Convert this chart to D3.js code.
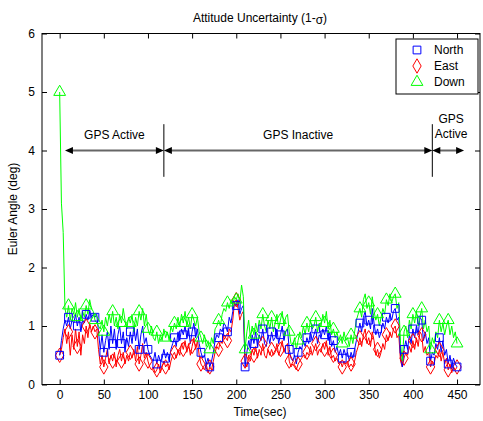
<!DOCTYPE html>
<html><head><meta charset="utf-8">
<script src="https://cdn.jsdelivr.net/npm/d3@7"></script>
<style>body{margin:0;background:#fff}svg{display:block}text{font-family:"Liberation Sans",Arial,sans-serif}</style>
</head><body><svg id="c" width="483" height="421"></svg>
<script>
const time = d3.range(0, 451, 2);
const xTicks = [0,50,100,150,200,250,300,350,400,450];
const yTicks = [0,1,2,3,4,5,6];
const seriesNames = ["North","East","Down"];
const north = [
0.5,0.75,0.95,1.1,1.0,1.15,0.95,1.1,1.05,1.2,
1.0,1.15,0.9,1.1,1.05,1.2,1.1,1.25,1.15,1.2,
1.15,1.2,0.9,0.6,0.85,0.55,0.75,0.9,0.6,1.0,
0.7,0.95,0.6,0.85,1.0,0.7,0.9,0.55,0.8,0.65,
0.9,0.7,1.0,0.75,0.95,0.6,0.85,1.0,0.7,0.8,
0.6,0.5,0.45,0.4,0.55,0.35,0.5,0.4,0.45,0.6,
0.45,0.55,0.4,0.6,0.7,0.8,0.65,0.9,0.75,0.95,
0.85,1.0,0.8,0.95,0.7,0.9,1.05,0.8,0.95,0.7,
0.55,0.45,0.5,0.35,0.45,0.3,0.4,0.55,0.75,0.85,
0.8,0.95,0.9,1.05,1.0,0.9,1.15,1.05,1.25,1.4,
1.35,1.45,1.2,1.3,1.35,0.3,0.55,0.75,0.6,0.85,
0.7,0.9,0.65,0.85,0.75,0.95,0.7,0.65,0.85,0.7,
0.9,0.75,0.8,0.95,0.7,0.85,1.0,0.75,0.9,0.95,
0.6,0.45,0.4,0.5,0.35,0.55,0.65,0.6,0.75,0.65,
0.8,0.7,0.9,0.75,0.85,0.95,0.7,0.85,0.8,0.95,
0.85,1.0,0.75,0.9,0.65,0.75,0.55,0.65,0.5,0.6,
0.45,0.6,0.5,0.55,0.4,0.55,0.45,0.6,0.75,0.9,
1.05,0.9,1.15,1.25,1.0,1.1,0.95,1.3,1.05,0.85,
0.95,0.8,0.9,1.05,0.95,1.15,1.05,1.2,1.1,1.25,
1.3,1.1,1.15,0.5,0.3,0.6,0.75,0.6,0.85,0.7,
0.95,0.8,1.0,0.85,1.15,1.1,0.75,0.9,0.7,0.8,
0.4,0.55,0.5,0.7,0.6,0.8,0.55,0.75,0.5,0.6,
0.35,0.5,0.3,0.45,0.35,0.3];
const east = [
0.5,0.6,0.8,0.95,0.7,0.9,0.5,0.85,0.6,0.95,
0.65,0.9,0.5,0.85,0.7,1.0,0.8,1.05,0.9,1.0,
0.9,0.95,0.6,0.35,0.5,0.3,0.45,0.6,0.35,0.5,
0.4,0.55,0.3,0.5,0.6,0.4,0.55,0.35,0.5,0.4,
0.55,0.45,0.6,0.4,0.65,0.35,0.5,0.7,0.45,0.55,
0.4,0.3,0.25,0.3,0.2,0.25,0.35,0.2,0.3,0.4,
0.3,0.35,0.25,0.4,0.5,0.55,0.45,0.6,0.5,0.7,
0.6,0.75,0.55,0.7,0.5,0.65,0.8,0.6,0.75,0.5,
0.35,0.3,0.25,0.35,0.2,0.3,0.25,0.4,0.55,0.65,
0.6,0.75,0.7,0.85,0.8,0.75,0.95,0.9,1.1,1.4,
1.45,1.3,1.1,1.2,1.25,0.4,0.3,0.5,0.4,0.6,
0.5,0.65,0.45,0.6,0.5,0.7,0.5,0.45,0.6,0.5,
0.6,0.5,0.55,0.7,0.5,0.6,0.75,0.55,0.65,0.7,
0.4,0.3,0.35,0.3,0.25,0.35,0.4,0.45,0.5,0.45,
0.55,0.5,0.65,0.5,0.6,0.7,0.5,0.6,0.55,0.7,
0.6,0.75,0.5,0.65,0.45,0.5,0.4,0.45,0.35,0.4,
0.3,0.4,0.35,0.4,0.3,0.35,0.3,0.4,0.55,0.65,
0.8,0.65,0.85,0.95,0.7,0.8,0.65,0.9,0.75,0.5,
0.6,0.45,0.55,0.7,0.6,0.85,0.75,0.9,0.8,0.95,
1.0,0.8,0.85,0.4,0.3,0.45,0.55,0.5,0.65,0.55,
0.75,0.6,0.8,0.65,0.9,0.85,0.55,0.65,0.5,0.55,
0.3,0.4,0.35,0.5,0.45,0.6,0.4,0.55,0.35,0.45,
0.25,0.35,0.2,0.3,0.25,0.3];
const down = [
5.0,3.1,2.6,1.3,1.15,1.35,1.1,1.3,1.2,1.4,
1.15,1.3,1.1,1.25,1.15,1.35,1.2,1.45,1.3,1.25,
1.1,1.05,1.0,0.95,1.1,0.9,1.15,1.0,1.2,1.05,
1.25,1.0,1.15,0.95,1.2,1.05,1.3,1.1,0.95,1.15,
1.05,1.2,0.9,1.15,1.0,1.25,1.1,1.3,1.0,1.2,
0.95,0.85,1.0,0.8,0.75,0.9,0.7,0.85,0.75,0.95,
0.8,0.9,0.75,1.0,0.9,1.05,0.95,1.15,1.0,1.2,
1.05,1.25,1.0,1.15,0.95,1.2,1.1,1.0,1.15,0.9,
0.8,0.7,0.85,0.65,0.75,0.6,0.8,0.7,0.95,1.0,
1.1,1.0,1.2,1.3,1.25,1.4,1.3,1.45,1.35,1.5,
1.45,1.55,1.4,1.7,1.5,0.6,0.9,1.1,0.8,1.0,
0.85,1.05,0.9,1.1,0.95,1.2,1.0,0.9,1.1,0.95,
1.15,0.9,1.05,1.2,0.95,1.1,1.25,1.0,1.15,1.2,
0.9,0.7,0.65,0.8,0.6,0.75,0.9,0.8,1.0,0.85,
1.05,0.9,1.1,0.95,1.0,1.15,0.9,1.05,1.0,1.2,
1.05,1.25,0.95,1.1,0.85,0.95,0.8,0.9,0.75,0.85,
0.7,0.9,0.75,0.8,0.65,0.85,0.7,0.9,1.1,1.2,
1.3,1.15,1.45,1.55,1.3,1.4,1.2,1.5,1.25,1.1,
1.2,1.0,1.15,1.3,1.2,1.45,1.35,1.55,1.4,1.5,
1.55,1.3,1.4,0.7,0.4,0.9,1.0,0.8,1.1,0.95,
1.2,1.05,1.25,1.0,1.15,1.3,0.95,1.1,0.9,1.0,
0.6,0.8,0.7,0.9,0.8,1.1,0.9,1.05,0.85,1.0,
1.1,0.85,1.0,0.8,0.9,0.7];
const phases = [
  {label:["GPS Active"], from:6, to:118},
  {label:["GPS Inactive"], from:118, to:422},
  {label:["GPS","Active"], from:422, to:458}
];
const phaseLevel = 4;
const dividers = [118, 422];

const svg = d3.select("#c");
const x = d3.scaleLinear().domain([-20, 476]).range([42, 480]);
const y = d3.scaleLinear().domain([0, 6]).range([384.5, 33.5]);
const colors = {North:"#0000ff", East:"#ff0000", Down:"#00ff00"};
const data = {North:north, East:east, Down:down};
const symbols = {North:d3.symbolSquare, East:d3.symbolDiamond, Down:d3.symbolTriangle};
const symSize = {North:60, East:60, Down:60};

svg.append("rect").attr("x",42).attr("y",33.5).attr("width",438).attr("height",351).attr("fill","none").attr("stroke","#000").attr("stroke-width",1);

const g = svg.append("g");
const line = d3.line().x((d,i)=>x(time[i])).y(d=>y(d));
["East","North","Down"].forEach(s=>{
  g.append("path").datum(data[s]).attr("d",line).attr("fill","none").attr("stroke",colors[s]).attr("stroke-width",1);
});
["East","North","Down"].forEach(s=>{
  const pts = data[s].map((v,i)=>({t:time[i],v})).filter((d,i)=>i%5===0);
  g.selectAll(null).data(pts).enter().append("path")
    .attr("d",d3.symbol().type(symbols[s]).size(symSize[s]))
    .attr("transform",d=>`translate(${x(d.t)},${y(d.v)})`)
    .attr("fill","none").attr("stroke",colors[s]).attr("stroke-width",1);
});

const fmt = d3.format("d");
const axB = svg.append("g").attr("transform","translate(0,384.5)").call(d3.axisBottom(x).tickValues(xTicks).tickFormat(fmt).tickSizeInner(-5).tickSizeOuter(0));
const axT = svg.append("g").attr("transform","translate(0,33.5)").call(d3.axisTop(x).tickValues(xTicks).tickSizeInner(-5).tickSizeOuter(0).tickFormat(""));
const axL = svg.append("g").attr("transform","translate(42,0)").call(d3.axisLeft(y).tickValues(yTicks).tickFormat(fmt).tickSizeInner(-5).tickSizeOuter(0).tickPadding(7));
const axR = svg.append("g").attr("transform","translate(480,0)").call(d3.axisRight(y).tickValues(yTicks).tickSizeInner(-5).tickSizeOuter(0).tickFormat(""));
[axB,axT,axL,axR].forEach(a=>{a.select(".domain").remove();a.selectAll("text").attr("font-size",12).attr("fill","#000").attr("font-family","Liberation Sans, Arial, sans-serif");});
axB.selectAll("text").attr("y",6).attr("dy","0.71em");

const ann = svg.append("g");
const hy = y(phaseLevel);
dividers.forEach(d=>{
  ann.append("line").attr("x1",x(d)).attr("x2",x(d)).attr("y1",y(phaseLevel-0.45)).attr("y2",y(phaseLevel+0.45)).attr("stroke","#000").attr("stroke-width",1);
});
phases.forEach(p=>{
  const x1 = x(p.from), x2 = x(p.to);
  ann.append("line").attr("x1",x1+6).attr("x2",x2-6).attr("y1",hy).attr("y2",hy).attr("stroke","#666").attr("stroke-width",2);
  ann.append("path").attr("d",`M${x1},${hy}L${x1+8},${hy-3.5}L${x1+8},${hy+3.5}Z`).attr("fill","#000");
  ann.append("path").attr("d",`M${x2},${hy}L${x2-8},${hy-3.5}L${x2-8},${hy+3.5}Z`).attr("fill","#000");
  const cx = (x1+x2)/2;
  const t = ann.append("text").attr("text-anchor","middle").attr("font-size",12).attr("x",cx);
  if(p.label.length===1){ t.attr("y",hy-12).text(p.label[0]); }
  else {
    t.attr("y",hy-28);
    p.label.forEach((l,i)=>t.append("tspan").attr("x",cx+3).attr("dy",i?15:0).text(l));
  }
});

const lg = svg.append("g");
lg.append("rect").attr("x",396).attr("y",39).attr("width",82).attr("height",55).attr("fill","#fff").attr("stroke","#000").attr("stroke-width",1);
seriesNames.forEach((s,i)=>{
  const ly = 50 + i*16;
  lg.append("path").attr("d",d3.symbol().type(symbols[s]).size(symSize[s])).attr("transform",`translate(417,${ly})`).attr("fill","none").attr("stroke",colors[s]);
  lg.append("text").attr("x",434).attr("y",ly+4).attr("font-size",12).text(s);
});

const tt = svg.append("text").attr("x",260).attr("y",22).attr("text-anchor","middle").attr("font-size",12);
tt.append("tspan").text("Attitude Uncertainty (1-");
tt.append("tspan").attr("dy",2).text("σ");
tt.append("tspan").attr("dy",-2).text(")");
svg.append("text").attr("x",260).attr("y",416).attr("text-anchor","middle").attr("font-size",12).text("Time(sec)");
svg.append("text").attr("transform","translate(17,209) rotate(-90)").attr("text-anchor","middle").attr("font-size",12).text("Euler Angle (deg)");
</script></body></html>
